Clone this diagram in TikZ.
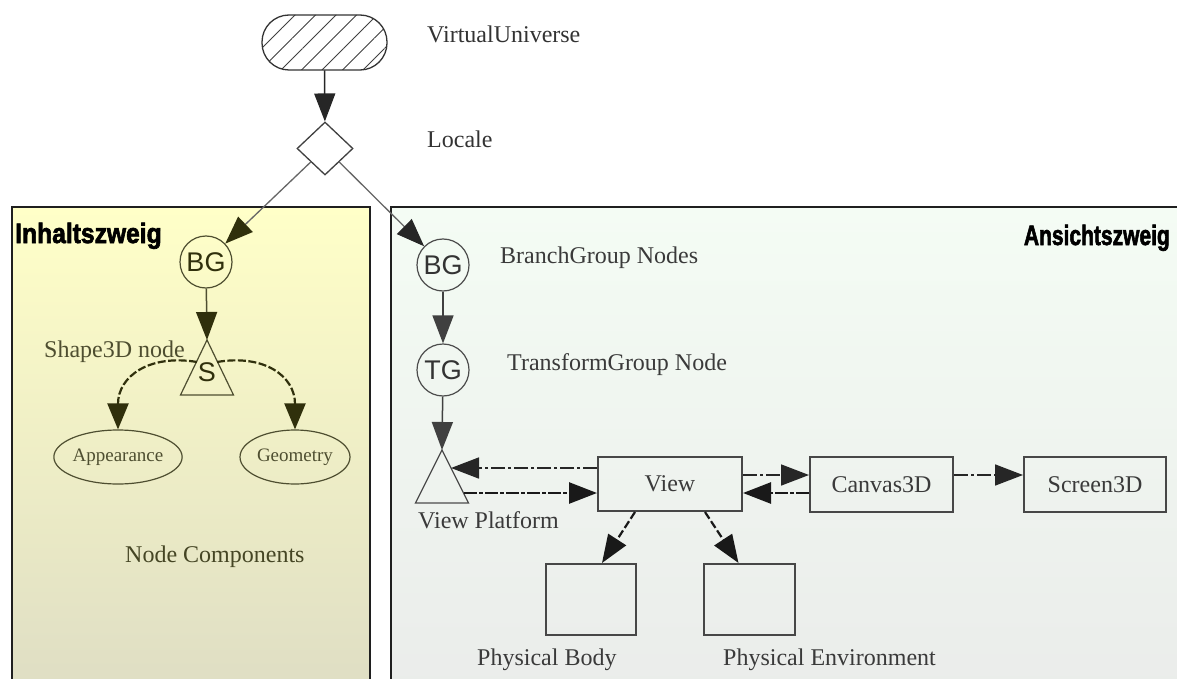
\documentclass[tikz,border=0pt]{standalone}
\usepackage{fontspec}
\setmainfont{Liberation Serif}
\newfontfamily\arialfont{Liberation Sans}
\newfontfamily\titlefont[BoldFeatures={FakeBold=2.5}]{Liberation Sans}
\usetikzlibrary{arrows.meta,shapes.geometric,patterns.meta,calc}

\definecolor{leftTop}{RGB}{255,255,200}
\definecolor{leftBot}{RGB}{222,221,196}
\definecolor{rightTop}{RGB}{244,252,244}
\definecolor{rightBot}{RGB}{234,236,234}
\definecolor{darkolive}{RGB}{48,48,12}
\definecolor{olivetext}{RGB}{78,78,48}
\definecolor{graytext}{RGB}{58,58,58}

\begin{document}
\begin{tikzpicture}[x=1pt,y=-1pt,
  serif/.style={font=\fontsize{24}{28}\selectfont, inner sep=0pt},
  smallserif/.style={font=\fontsize{19}{22}\selectfont},
  sanslbl/.style={font=\arialfont\fontsize{27}{30}\selectfont},
  branchtitle/.style={font=\titlefont\bfseries\fontsize{28}{30}\selectfont, inner sep=0pt, text=black},
  panel/.style={draw=black!88, line width=2.4pt},
  grpcircle/.style={circle, draw=black!70, line width=1.2pt, minimum size=52pt, inner sep=0pt, sanslbl, text=black!80},
  boxnode/.style={rectangle, draw=black!72, line width=2pt, inner sep=0pt, serif, text=graytext},
  bigtip/.style={-{Triangle[length=28pt,width=21pt]}},
  arr/.style={line width=1.5pt, bigtip},
  dashdot/.style={line width=1.7pt, draw=black!85, dash pattern=on 14pt off 3pt on 3pt off 3pt, bigtip},
  dashbold/.style={line width=2.6pt, draw=black!90, dash pattern=on 13pt off 2pt on 4pt off 2pt, bigtip},
  dashdown/.style={line width=2.2pt, draw=black!90, dash pattern=on 8pt off 3pt, bigtip},
  curvearr/.style={line width=2.2pt, draw=darkolive, dash pattern=on 8pt off 2.5pt,
    -{Triangle[length=26pt,width=21pt,color=darkolive]}},
]
\useasboundingbox (0,0) rectangle (1177,679);
\clip (0,0) rectangle (1177,679);
\fill[white] (0,0) rectangle (1177,679);

% content branch and view branch panels
\shade[top color=leftTop, bottom color=leftBot] (12,207) rectangle (370,700);
\draw[panel] (12,207) rectangle (370,700);
\shade[top color=rightTop, bottom color=rightBot] (391,207) rectangle (1200,700);
\draw[panel] (391,207) rectangle (1200,700);

\node[branchtitle, anchor=base west] (inh) at (15,243) {\scalebox{0.88}[1]{Inhaltszweig}};
\node[branchtitle, anchor=base east] (ans) at (1170,245) {\scalebox{0.75}[1]{Ansichtszweig}};

% virtual universe and locale
\node[rectangle, rounded corners=27pt, draw=black!80, line width=1.3pt,
  minimum width=125pt, minimum height=55pt, inner sep=0pt,
  pattern={Lines[angle=45,distance=14.5pt,line width=0.9pt]}, pattern color=black!75] (vu) at (324.5,42.5) {};
\node[serif, anchor=base west, text=black!80] (vulbl) at (427,43) {VirtualUniverse};

\node[diamond, draw=black!75, fill=white, line width=1.3pt, minimum width=56pt,
  minimum height=53pt, inner sep=0pt] (loc) at (325,148.5) {};
\node[serif, anchor=base west, text=black!80] (loclbl) at (427,148) {Locale};

\draw[arr, draw=black!85] (vu) -- (loc);

% content branch
\node[grpcircle, draw=olivetext, text=darkolive] (bgL) at (206,262) {BG};
\coordinate (s) at (207,340);
\draw[draw=olivetext, line width=1.2pt, line join=miter] (s) -- ++(-26.5,55) -- ++(53,0) -- cycle;
\node[sanslbl, text=darkolive] (slbl) at (207,372) {S};
\node[serif, anchor=base east, text=olivetext] (shlbl) at (185,357) {Shape3D node};
\draw[line width=1.5pt, draw=olivetext, -{Triangle[length=28pt,width=21pt,color=darkolive]}] (bgL) -- (s);

\node[ellipse, draw=olivetext, line width=1.2pt, minimum width=110pt, minimum height=54pt,
  inner sep=0pt, smallserif, text=olivetext] (app) at (118,457) {Appearance};
\node[ellipse, draw=olivetext, line width=1.2pt, minimum width=110pt, minimum height=54pt,
  inner sep=0pt, smallserif, text=olivetext] (geo) at (295,457) {Geometry};

\coordinate (sL) at (197,362);
\coordinate (sR) at (217,362);
\draw[curvearr] (sL) .. controls (150,354) and (118,376) .. (app.north);
\draw[curvearr] (sR) .. controls (264,354) and (295,376) .. (geo.north);

\node[serif, anchor=base west, text=darkolive!90] (nclbl) at (125,562) {Node Components};

% view branch
\node[grpcircle] (bgR) at (443,265) {BG};
\node[grpcircle] (tg) at (443,370) {TG};
\node[serif, anchor=base west, text=graytext] (bglbl) at (500,263) {BranchGroup Nodes};
\node[serif, anchor=base west, text=graytext] (tglbl) at (507,370) {TransformGroup Node};

\draw[line width=1.3pt, draw=black!60, -{Triangle[length=28pt,width=21pt,color=darkolive]}] (loc.south west) -- (bgL);
\draw[line width=1.3pt, draw=black!60, -{Triangle[length=28pt,width=21pt,color=black!85]}] (loc.south east) -- (bgR);

\draw[arr, draw=black!75] (bgR) -- (tg);

\coordinate (vp) at (442,450);
\draw[draw=black!70, line width=1.3pt, line join=miter] (vp) -- ++(-26.5,53) -- ++(53,0) -- cycle;
\node[serif, anchor=base west, text=graytext] (vplbl) at (418,528) {View Platform};
\draw[arr, draw=black!75] (tg) -- (vp);
\coordinate (vpA) at (451,468);
\coordinate (vpB) at (464,493);

\node[boxnode, minimum width=144pt, minimum height=54pt] (view) at (670,484) {View};
\node[boxnode, minimum width=143pt, minimum height=55pt] (canvas) at (881.5,484.5) {Canvas3D};
\node[boxnode, minimum width=142pt, minimum height=55pt] (screen) at (1095,484.5) {Screen3D};
\node[boxnode, minimum width=90pt, minimum height=71pt] (pb) at (591,599.5) {};
\node[boxnode, minimum width=91pt, minimum height=71pt] (pe) at (749.5,599.5) {};
\node[serif, anchor=base west, text=graytext] (pblbl) at (477,665) {Physical Body};
\node[serif, anchor=base west, text=graytext] (pelbl) at (723,665) {Physical Environment};

\draw[dashdot] ($(view.west)+(0,-16)$) -- (vpA);
\draw[dashbold] (vpB) -- ($(view.west)+(0,9)$);
\draw[dashdot] ($(view.east)+(0,-9)$) -- ($(canvas.west)+(0,-9.5)$);
\draw[dashbold] ($(canvas.west)+(0,8.5)$) -- ($(view.east)+(0,9)$);
\draw[dashdot] ($(canvas.east)+(0,-9.5)$) -- ($(screen.west)+(0,-9.5)$);
\draw[dashdown] ($(view.south)+(-35,0)$) -- ($(pb.north)+(11,0)$);
\draw[dashdown] ($(view.south)+(35,0)$) -- ($(pe.north)+(-11,0)$);
\end{tikzpicture}
\end{document}
